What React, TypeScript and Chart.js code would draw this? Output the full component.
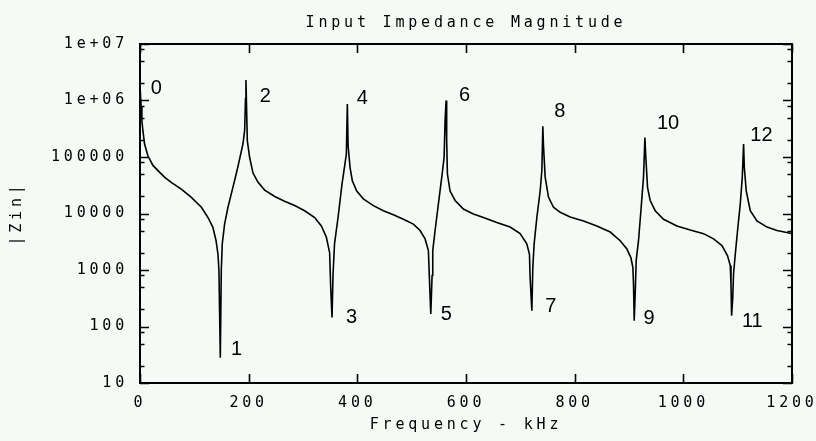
import { useEffect, useRef } from 'react';
import { Chart, registerables } from 'chart.js';

Chart.register(...registerables);

// Frequency samples (kHz)
const freqKHz = [
  0.5, 2, 3.5, 5.3, 8.4, 14.5, 23.8, 33, 45, 57.5, 76, 94, 113, 125, 134, 140, 143.5, 145.3, 147.8, 149.6, 151.4, 155.7, 161.9, 171, 180, 189.5, 192.6, 194.2, 195, 197.5,
  201.8, 208, 217, 229.4, 248, 266, 284.7, 303, 321.5, 333.8, 343, 349, 351, 353.4, 355.3, 358, 364.5, 371.8, 379.8, 381.6, 383,
  386.6, 390.8, 398.9, 411, 429.5, 447.9, 466.3, 484.7, 503.1, 515.5, 524.7, 530.8, 532.6, 535.2, 537.6, 538.8, 543.1, 549.2, 555.4, 559.7, 561.5, 563.4, 564.4,
  565.8, 570.7, 579.9, 595.2, 613.6, 632, 656.7, 681.2, 699.6, 711.9, 716.8, 718, 721.2, 723, 725.4, 730.4, 736.5, 739.6, 741.4, 742.6,
  745.7, 751.8, 761, 773.3, 791.7, 816.3, 840.8, 865.4, 883.8, 896.1, 903.4, 907.1, 908.3, 909.6, 911.5, 913.3, 917.5, 921.9, 926.7, 929.3, 930.5,
  934.1, 939, 948.2, 963.6, 988.2, 1012.7, 1037.2, 1055.6, 1071.1, 1081.4, 1086.4, 1087.7, 1088.8, 1090.8, 1092.4, 1095.6, 1099.8, 1104.8, 1108.5, 1110.9, 1112.2, 1115.8, 1123.2, 1135.5, 1154, 1172.4, 1196.9, 1200,
];

// |Zin| values
const zinMagnitude = [
  1.5e6, 8e5, 4.4e5, 2.95e5, 1.7e5, 1.05e5, 7.1e4, 5.75e4, 4.4e4, 3.55e4, 2.7e4, 1.95e4, 1.29e4, 8500, 5750, 3300, 1900, 980, 28, 980, 2900, 6500, 12900, 29000, 66000, 170000, 295000, 1.07e6, 2.3e6, 1.95e5,
  9.8e4, 5.2e4, 3.6e4, 2.6e4, 2.0e4, 1.65e4, 1.38e4, 1.12e4, 8500, 6000, 3800, 2040, 490, 145, 850, 2900, 8500, 33000, 1.12e5, 8.7e5, 1.6e5,
  6.5e4, 3.8e4, 2.5e4, 1.82e4, 1.38e4, 1.12e4, 9500, 7900, 6500, 5000, 3550, 2200, 740, 166, 800, 2200, 5000, 14800, 44000, 98000, 4.4e5, 1.0e6, 2.0e5,
  5.0e4, 2.5e4, 1.7e4, 1.2e4, 9800, 8500, 6900, 5750, 4400, 2900, 1900, 740, 190, 1120, 2900, 8500, 25000, 57500, 3.5e5, 1.6e5,
  44000, 19500, 12900, 10500, 8700, 7400, 6000, 4700, 3300, 2350, 1660, 1120, 560, 126, 400, 1500, 3300, 11200, 44000, 2.2e5, 1.2e5,
  29000, 17000, 11200, 7900, 6000, 5100, 4400, 3550, 2700, 1780, 1200, 560, 155, 300, 850, 1900, 5000, 14800, 44000, 1.7e5, 66000, 25000, 11200, 7400, 5750, 5000, 4470, 4400,
];

const xTickValues = [0, 200, 400, 600, 800, 1000, 1200];
const yDecades = [10, 100, 1000, 10000, 100000, 1e6, 1e7];
const yTickLabels = ['10', '100', '1000', '10000', '100000', '1e+06', '1e+07'];
const yMinorMultipliers = [2, 5, 8];

// Mode number annotations
const modeLabels = ['0', '1', '2', '3', '4', '5', '6', '7', '8', '9', '10', '11', '12'];
const modeLabelFreq = [20, 167.4, 220.3, 379.2, 398.9, 553.6, 587.3, 745.7, 762.2, 926.7, 951.4, 1107.9, 1123.2];
const modeLabelZin = [1.6e6, 39, 1.18e6, 144, 1.1e6, 166, 1.25e6, 226, 6.4e5, 141, 3.9e5, 125, 2.45e5];

const MONO = '"DejaVu Sans Mono", monospace';
const SPACING = '3.8px';

const spacingPlugin = {
  id: 'spacing',
  beforeUpdate(chart: any) {
    chart.ctx.letterSpacing = SPACING;
  },
  beforeDraw(chart: any) {
    chart.ctx.letterSpacing = SPACING;
  },
};

const isDecade = (v: number) => Math.abs(Math.log10(v) - Math.round(Math.log10(v))) < 1e-9;

const framePlugin = {
  id: 'frame',
  afterDatasetsDraw(chart: any) {
    const { ctx, chartArea: a, scales } = chart;
    const x = scales.x;
    const y = scales.y;
    ctx.save();
    ctx.letterSpacing = '0px';
    ctx.strokeStyle = '#000';
    ctx.lineWidth = 1.6;
    ctx.beginPath();
    y.ticks.forEach((t: any) => {
      const py = Math.round(y.getPixelForValue(t.value)) + 0.5;
      const len = isDecade(t.value) ? 9 : 4.5;
      ctx.moveTo(a.left, py);
      ctx.lineTo(a.left + len, py);
      ctx.moveTo(a.right, py);
      ctx.lineTo(a.right - len, py);
    });
    x.ticks.forEach((t: any) => {
      const px = Math.round(x.getPixelForValue(t.value)) + 0.5;
      ctx.moveTo(px, a.bottom);
      ctx.lineTo(px, a.bottom - 9);
      ctx.moveTo(px, a.top);
      ctx.lineTo(px, a.top + 9);
    });
    ctx.stroke();
    ctx.lineWidth = 2;
    ctx.strokeRect(a.left, a.top, a.right - a.left, a.bottom - a.top);

    ctx.fillStyle = '#000';
    ctx.font = '20px "Liberation Sans", Arial, sans-serif';
    ctx.textAlign = 'left';
    ctx.textBaseline = 'middle';
    modeLabels.forEach((txt, i) => {
      const px = x.getPixelForValue(modeLabelFreq[i]);
      const py = y.getPixelForValue(modeLabelZin[i]);
      ctx.fillText(txt, px, py);
    });
    ctx.restore();
  },
};

export default function App() {
  const canvasRef = useRef<HTMLCanvasElement | null>(null);

  useEffect(() => {
    const canvas = canvasRef.current;
    if (!canvas) return;
    const points = freqKHz.map((f, i) => ({ x: f, y: zinMagnitude[i] }));
    const chart = new Chart(canvas, {
      type: 'line',
      data: {
        datasets: [
          {
            data: points,
            borderColor: '#000',
            borderWidth: 1.6,
            pointRadius: 0,
            tension: 0,
            fill: false,
          },
        ],
      },
      options: {
        animation: false,
        responsive: false,
        devicePixelRatio: 1,
        layout: { padding: { left: 0, right: 24, top: 0, bottom: 0 } },
        plugins: {
          legend: { display: false },
          tooltip: { enabled: false },
          title: {
            display: true,
            fullSize: false,
            text: 'Input Impedance Magnitude',
            color: '#000',
            font: { family: MONO, size: 15, lineHeight: 1, weight: 'normal' },
            padding: { top: 16, bottom: 13 },
          },
        },
        scales: {
          x: {
            type: 'linear',
            min: 0,
            max: 1200,
            afterBuildTicks: (s: any) => {
              s.ticks = xTickValues.map((v) => ({ value: v }));
            },
            afterFit: (s: any) => {
              s.height = 58;
              s.paddingLeft = 0;
              s.paddingRight = 0;
            },
            grid: { display: false, drawTicks: false },
            border: { display: false },
            ticks: {
              color: '#000',
              font: { family: MONO, size: 15, lineHeight: 1.2 },
              padding: 11,
              autoSkip: false,
              maxRotation: 0,
              callback: (v: any) => String(v),
            },
            title: {
              display: true,
              text: 'Frequency - kHz',
              color: '#000',
              font: { family: MONO, size: 15, lineHeight: 1 },
              padding: { top: 0, bottom: 8 },
            },
          },
          y: {
            type: 'logarithmic',
            min: 10,
            max: 1e7,
            afterBuildTicks: (s: any) => {
              const vals: number[] = [];
              yDecades.forEach((d, i) => {
                vals.push(d);
                if (i < yDecades.length - 1) yMinorMultipliers.forEach((m) => vals.push(d * m));
              });
              s.ticks = vals.sort((p, q) => p - q).map((v) => ({ value: v }));
            },
            afterFit: (s: any) => {
              s.width = 140;
              s.paddingTop = 0;
              s.paddingBottom = 0;
            },
            grid: { display: false, drawTicks: false },
            border: { display: false },
            ticks: {
              color: '#000',
              font: { family: MONO, size: 15, lineHeight: 1.2 },
              padding: 12,
              autoSkip: false,
              callback: (v: any) => {
                const idx = yDecades.findIndex((d) => Math.abs(d - Number(v)) < 1e-6 * d);
                return idx >= 0 ? yTickLabels[idx] : '';
              },
            },
            title: {
              display: true,
              text: '|Zin|',
              color: '#000',
              font: { family: MONO, size: 15, lineHeight: 1 },
              padding: { top: 10, bottom: 0 },
            },
          },
        },
      },
      plugins: [spacingPlugin, framePlugin],
    } as any);
    return () => chart.destroy();
  }, []);

  return (
    <div style={{ position: 'fixed', left: 0, top: 0, width: 816, height: 441, background: '#f6faf6' }}>
      <canvas ref={canvasRef} width={816} height={441} style={{ display: 'block' }} />
    </div>
  );
}
